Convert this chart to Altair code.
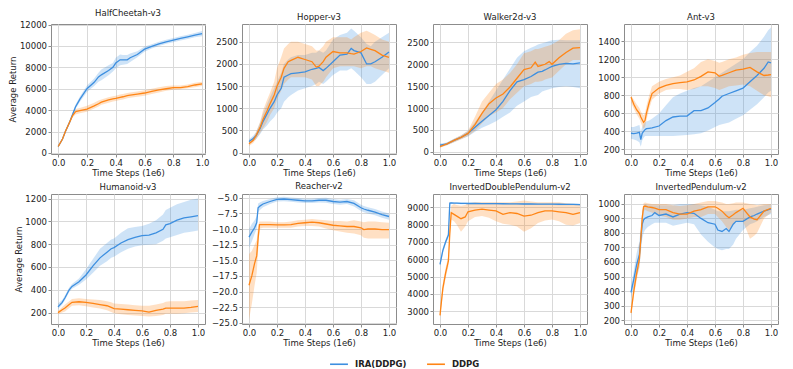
import altair as alt
import pandas as pd

BLUE = "#3d8fe0"
ORANGE = "#ff8515"
METHODS = ["IRA(DDPG)", "DDPG"]
X_TICKS = [0.0, 0.2, 0.4, 0.6, 0.8, 1.0]

# ---------------- HalfCheetah-v3 ----------------
HC_X = [0, .03, .05, .08, .1, .12, .15, .2, .25, .28, .3, .35, .38, .4, .43, .45, .48, .5, .55, .6, .65, .7, .75, .8, .85, .9, .95, 1.0]
HC_IRA = [600, 1300, 2000, 2900, 3600, 4300, 5000, 6000, 6600, 7100, 7300, 7700, 8000, 8400, 8700, 8700, 8700, 8900, 9200, 9700, 9950, 10200, 10380, 10550, 10700, 10850, 11000, 11150]
HC_IRA_LO = [500, 1200, 1900, 2750, 3450, 4100, 4750, 5700, 6250, 6650, 6800, 7250, 7600, 7900, 8200, 8250, 8300, 8500, 8950, 9450, 9750, 10000, 10200, 10350, 10500, 10650, 10800, 10900]
HC_IRA_HI = [700, 1400, 2100, 3050, 3750, 4500, 5250, 6300, 6950, 7500, 7800, 8200, 8400, 8900, 9200, 9150, 9150, 9300, 9500, 9950, 10150, 10400, 10580, 10750, 10900, 11050, 11200, 11400]
HC_DDPG = [600, 1300, 2000, 2900, 3500, 3850, 3950, 4100, 4400, 4600, 4750, 4950, 5050, 5100, 5200, 5250, 5350, 5400, 5500, 5600, 5750, 5900, 6000, 6100, 6100, 6200, 6350, 6450]
HC_DDPG_LO = [500, 1200, 1900, 2750, 3300, 3600, 3700, 3850, 4150, 4350, 4500, 4700, 4800, 4850, 4950, 5000, 5100, 5150, 5250, 5350, 5500, 5650, 5800, 5900, 5950, 6050, 6150, 6250]
HC_DDPG_HI = [700, 1400, 2100, 3050, 3700, 4100, 4200, 4400, 4700, 4900, 5000, 5200, 5300, 5350, 5450, 5500, 5600, 5650, 5750, 5850, 6000, 6150, 6250, 6300, 6300, 6400, 6550, 6650]

# ---------------- Hopper-v3 ----------------
HO_X = [0, .03, .05, .08, .1, .13, .15, .18, .2, .23, .25, .28, .3, .35, .4, .45, .48, .5, .53, .55, .6, .65, .7, .73, .75, .8, .84, .87, .9, .95, 1.0]
HO_IRA = [250, 320, 380, 550, 700, 880, 1000, 1150, 1300, 1450, 1700, 1750, 1780, 1800, 1820, 1880, 1900, 1920, 1850, 1900, 2050, 2200, 2220, 2350, 2300, 2250, 2000, 2000, 2050, 2150, 2270]
HO_IRA_LO = [200, 260, 300, 420, 520, 620, 700, 800, 900, 1000, 1150, 1250, 1300, 1400, 1450, 1500, 1550, 1600, 1550, 1600, 1750, 1850, 1850, 1900, 1850, 1700, 1550, 1550, 1600, 1750, 1900]
HO_IRA_HI = [300, 380, 460, 680, 880, 1100, 1250, 1450, 1600, 1800, 2000, 2100, 2150, 2200, 2200, 2250, 2250, 2300, 2250, 2300, 2550, 2650, 2700, 2800, 2750, 2600, 2450, 2400, 2500, 2600, 2700]
HO_DDPG = [200, 280, 380, 580, 750, 950, 1100, 1300, 1500, 1700, 1900, 2050, 2080, 2150, 2100, 2050, 1930, 1950, 2050, 2150, 2280, 2250, 2250, 2230, 2220, 2280, 2360, 2330, 2300, 2200, 2150]
HO_DDPG_LO = [150, 220, 300, 450, 550, 700, 850, 1000, 1200, 1400, 1550, 1650, 1700, 1700, 1700, 1650, 1500, 1500, 1600, 1700, 1900, 1950, 1950, 1950, 1950, 1900, 1950, 1950, 1900, 1850, 1800]
HO_DDPG_HI = [250, 340, 460, 700, 950, 1200, 1350, 1600, 1900, 2150, 2350, 2450, 2500, 2500, 2450, 2400, 2300, 2300, 2400, 2500, 2600, 2600, 2600, 2550, 2600, 2700, 2750, 2700, 2650, 2550, 2500]

# ---------------- Walker2d-v3 ----------------
WA_X = [0, .05, .1, .15, .2, .25, .3, .35, .4, .45, .5, .55, .6, .65, .68, .7, .73, .75, .78, .8, .85, .9, .95, 1.0]
WA_IRA = [150, 180, 260, 330, 420, 560, 700, 830, 960, 1150, 1400, 1600, 1650, 1720, 1780, 1820, 1840, 1870, 1920, 1950, 2000, 2020, 2010, 2030]
WA_IRA_LO = [110, 150, 220, 290, 350, 460, 550, 620, 700, 800, 900, 1050, 1150, 1250, 1280, 1300, 1380, 1400, 1430, 1450, 1480, 1500, 1480, 1450]
WA_IRA_HI = [190, 210, 300, 370, 480, 680, 900, 1150, 1400, 1650, 1900, 2150, 2300, 2380, 2420, 2450, 2480, 2500, 2530, 2550, 2560, 2550, 2550, 2550]
WA_DDPG = [120, 180, 260, 330, 420, 620, 880, 1100, 1230, 1320, 1480, 1680, 1880, 1920, 2050, 1950, 1980, 2000, 2060, 2000, 2150, 2270, 2370, 2380]
WA_DDPG_LO = [90, 150, 220, 280, 360, 480, 650, 820, 900, 1000, 1200, 1350, 1500, 1550, 1600, 1600, 1620, 1650, 1680, 1700, 1850, 2000, 2100, 2100]
WA_DDPG_HI = [150, 210, 300, 380, 480, 800, 1150, 1350, 1550, 1650, 1800, 2000, 2250, 2300, 2350, 2350, 2380, 2400, 2430, 2450, 2550, 2700, 2780, 2800]

# ---------------- Ant-v3 ----------------
AN_X = [0, .02, .04, .06, .07, .08, .09, .1, .11, .13, .15, .2, .25, .3, .35, .4, .45, .5, .55, .6, .63, .65, .7, .75, .8, .85, .9, .95, .98, 1.0]
AN_IRA = [380, 375, 380, 390, 310, 380, 400, 420, 430, 435, 440, 460, 520, 560, 570, 570, 630, 630, 660, 720, 760, 790, 820, 850, 880, 950, 1020, 1100, 1170, 1160]
AN_IRA_LO = [320, 310, 300, 280, 230, 300, 330, 350, 350, 350, 350, 350, 350, 350, 355, 360, 370, 380, 410, 450, 470, 480, 500, 540, 580, 640, 700, 780, 830, 850]
AN_IRA_HI = [450, 450, 460, 470, 400, 450, 480, 500, 510, 520, 540, 600, 690, 780, 820, 850, 880, 900, 950, 1000, 1030, 1050, 1100, 1150, 1200, 1280, 1350, 1450, 1520, 1550]
AN_DDPG = [780, 700, 640, 600, 560, 530, 500, 520, 600, 720, 820, 880, 910, 930, 940, 950, 970, 1010, 1060, 1050, 1010, 1020, 1050, 1080, 1090, 1110, 1060, 1020, 1025, 1030]
AN_DDPG_LO = [720, 650, 590, 540, 500, 460, 430, 450, 520, 650, 750, 820, 860, 870, 870, 860, 870, 900, 900, 880, 860, 870, 900, 910, 920, 900, 850, 800, 790, 780]
AN_DDPG_HI = [800, 750, 700, 660, 620, 600, 580, 600, 680, 800, 900, 950, 980, 1000, 1020, 1060, 1100, 1170, 1200, 1180, 1160, 1170, 1200, 1220, 1250, 1270, 1280, 1280, 1280, 1280]

# ---------------- Humanoid-v3 ----------------
HU_X = [0, .03, .05, .08, .1, .15, .2, .25, .3, .35, .38, .4, .45, .5, .55, .6, .65, .7, .75, .77, .8, .85, .9, .95, 1.0]
HU_IRA = [250, 290, 330, 400, 430, 470, 530, 610, 680, 730, 760, 770, 810, 840, 860, 875, 880, 900, 930, 970, 980, 1010, 1030, 1040, 1050]
HU_IRA_LO = [230, 270, 310, 380, 410, 445, 490, 550, 610, 650, 680, 690, 730, 760, 780, 790, 795, 800, 830, 850, 860, 880, 900, 910, 920]
HU_IRA_HI = [280, 310, 350, 420, 450, 500, 580, 670, 760, 810, 840, 850, 900, 940, 950, 960, 980, 1010, 1060, 1100, 1120, 1150, 1170, 1190, 1200]
HU_DDPG = [200, 225, 240, 270, 290, 295, 290, 280, 270, 260, 245, 235, 230, 225, 220, 215, 205, 220, 230, 240, 240, 240, 240, 245, 255]
HU_DDPG_LO = [185, 200, 210, 240, 260, 265, 255, 245, 235, 220, 205, 195, 185, 180, 175, 170, 165, 170, 180, 190, 190, 190, 195, 200, 205]
HU_DDPG_HI = [215, 250, 270, 300, 320, 325, 320, 315, 310, 300, 290, 280, 275, 270, 265, 260, 260, 270, 285, 295, 300, 300, 300, 305, 310]

# ---------------- Reacher-v2 ----------------
RE_X = [0, .02, .04, .055, .065, .075, .08, .1, .15, .2, .25, .3, .35, .4, .45, .5, .55, .6, .65, .7, .75, .8, .82, .85, .9, .95, 1.0]
RE_IRA = [-11.3, -10.5, -9.8, -9.0, -6.6, -6.4, -6.3, -6.0, -5.6, -5.25, -5.2, -5.3, -5.4, -5.5, -5.5, -5.4, -5.4, -5.6, -5.7, -5.6, -5.9, -6.6, -6.8, -7.0, -7.3, -7.7, -8.0]
RE_IRA_LO = [-13.0, -12.0, -10.8, -10.0, -7.4, -7.0, -6.9, -6.5, -6.0, -5.6, -5.55, -5.65, -5.75, -5.85, -5.85, -5.75, -5.8, -6.0, -6.1, -6.0, -6.4, -7.1, -7.3, -7.5, -7.8, -8.2, -8.5]
RE_IRA_HI = [-10.0, -9.2, -8.6, -8.0, -5.9, -5.8, -5.7, -5.5, -5.2, -4.9, -4.85, -4.95, -5.05, -5.15, -5.15, -5.05, -5.0, -5.2, -5.3, -5.2, -5.4, -6.1, -6.3, -6.5, -6.8, -7.2, -7.5]
RE_DDPG = [-19.0, -17.5, -15.5, -14.3, -11.5, -9.3, -9.3, -9.3, -9.3, -9.35, -9.35, -9.3, -9.1, -9.0, -8.9, -9.0, -9.2, -9.4, -9.5, -9.6, -9.6, -9.8, -10.1, -10.0, -10.0, -10.1, -10.1]
RE_DDPG_LO = [-24.5, -22.0, -19.0, -17.0, -13.5, -10.0, -9.9, -9.8, -9.8, -9.8, -9.8, -9.8, -9.6, -9.5, -9.5, -9.6, -9.9, -10.2, -10.4, -10.6, -10.7, -11.0, -11.4, -11.5, -11.5, -11.5, -11.5]
RE_DDPG_HI = [-14.0, -13.5, -12.5, -11.8, -9.5, -8.8, -8.8, -8.8, -8.8, -8.9, -8.9, -8.8, -8.6, -8.5, -8.4, -8.5, -8.6, -8.7, -8.7, -8.8, -8.6, -8.8, -8.9, -8.8, -8.8, -8.9, -9.0]

# ---------------- InvertedDoublePendulum-v2 ----------------
ID_X = [0, .02, .04, .06, .07, .08, .1, .12, .15, .18, .2, .25, .3, .35, .4, .45, .5, .55, .6, .65, .7, .75, .8, .85, .9, .95, 1.0]
ID_IRA = [5700, 6500, 7000, 7400, 9250, 9260, 9250, 9250, 9240, 9240, 9230, 9230, 9225, 9225, 9220, 9215, 9210, 9210, 9200, 9200, 9195, 9190, 9190, 9185, 9180, 9175, 9170]
ID_IRA_LO = [5550, 6350, 6850, 7250, 9190, 9210, 9200, 9200, 9190, 9190, 9180, 9180, 9175, 9175, 9170, 9165, 9160, 9160, 9150, 9150, 9145, 9140, 9140, 9135, 9130, 9125, 9120]
ID_IRA_HI = [5850, 6650, 7150, 7550, 9300, 9310, 9300, 9300, 9290, 9290, 9280, 9280, 9275, 9275, 9270, 9265, 9260, 9260, 9250, 9250, 9245, 9240, 9240, 9235, 9230, 9225, 9220]
ID_DDPG = [2750, 4300, 5200, 5900, 7500, 8700, 8600, 8500, 8350, 8450, 8750, 8850, 8900, 8850, 8800, 8600, 8700, 8650, 8500, 8550, 8700, 8800, 8800, 8750, 8700, 8600, 8700]
ID_DDPG_LO = [2600, 4000, 4900, 5600, 7200, 8300, 8200, 8000, 7600, 7900, 8200, 8450, 8500, 8400, 8200, 8050, 8000, 7900, 7600, 7800, 8100, 8250, 8300, 8200, 8000, 7950, 8100]
ID_DDPG_HI = [2900, 4600, 5500, 6200, 7800, 9100, 9200, 9150, 9100, 9150, 9250, 9300, 9300, 9300, 9300, 9300, 9300, 9350, 9400, 9350, 9300, 9300, 9300, 9300, 9250, 9200, 9150]

# ---------------- InvertedPendulum-v2 ----------------
IP_X = [0, .02, .04, .06, .08, .09, .1, .12, .15, .17, .2, .25, .3, .35, .4, .45, .5, .55, .6, .62, .65, .68, .7, .73, .75, .8, .85, .88, .9, .95, 1.0]
IP_IRA = [390, 480, 580, 650, 860, 890, 900, 910, 920, 940, 920, 930, 910, 930, 940, 935, 900, 870, 860, 820, 810, 830, 810, 860, 880, 880, 910, 920, 930, 950, 965]
IP_IRA_LO = [350, 420, 500, 560, 760, 800, 820, 840, 860, 870, 870, 870, 850, 860, 870, 860, 790, 740, 700, 690, 680, 690, 690, 720, 760, 820, 860, 870, 880, 910, 930]
IP_IRA_HI = [430, 540, 660, 740, 950, 980, 1000, 990, 990, 990, 990, 990, 990, 1000, 1000, 1000, 990, 980, 960, 950, 950, 950, 950, 955, 960, 960, 970, 975, 980, 990, 995]
IP_DDPG = [250, 400, 520, 620, 900, 980, 985, 980, 975, 970, 960, 960, 940, 930, 930, 950, 960, 980, 980, 970, 950, 920, 905, 925, 940, 970, 910, 895, 890, 950, 970]
IP_DDPG_LO = [230, 360, 470, 570, 850, 950, 960, 950, 940, 930, 920, 910, 890, 890, 900, 910, 910, 930, 930, 910, 880, 840, 820, 860, 880, 880, 760, 780, 800, 900, 940]
IP_DDPG_HI = [270, 440, 570, 670, 950, 1005, 1010, 1005, 1000, 1000, 1000, 1000, 990, 985, 990, 1000, 1010, 1020, 1020, 1015, 1010, 1000, 1000, 1005, 1010, 1010, 1000, 995, 990, 1000, 1000]

W, H = 154, 130
FONT = "DejaVu Sans"
TXT = "#222222"


def panel(title, x, ira, ira_lo, ira_hi, ddpg, ddpg_lo, ddpg_hi,
          ydom, yticks, yfmt, ytitle, xdom=(-0.05, 1.05)):
    rows = []
    for i in range(len(x)):
        rows.append({"x": x[i], "m": METHODS[0], "y": ira[i], "lo": ira_lo[i], "hi": ira_hi[i]})
    for i in range(len(x)):
        rows.append({"x": x[i], "m": METHODS[1], "y": ddpg[i], "lo": ddpg_lo[i], "hi": ddpg_hi[i]})
    df = pd.DataFrame(rows)

    xs = alt.Scale(domain=list(xdom), nice=False, zero=False)
    xa = alt.Axis(values=X_TICKS, format=".1f", title="Time Steps (1e6)", labelFlush=False)
    ys = alt.Scale(domain=list(ydom), nice=False, zero=False)
    if ytitle:
        ya = alt.Axis(values=yticks, format=yfmt, title="Average Return", labelFlush=False)
    else:
        ya = alt.Axis(values=yticks, format=yfmt, title=None, labelFlush=False)
    cs = alt.Scale(domain=METHODS, range=[BLUE, ORANGE])

    base = alt.Chart(df)
    bands = []
    for name, col in zip(METHODS, [BLUE, ORANGE]):
        bands.append(
            base.transform_filter(alt.datum.m == name)
            .mark_area(opacity=0.25, color=col, clip=True)
            .encode(
                x=alt.X("x:Q", scale=xs, axis=xa),
                y=alt.Y("lo:Q", scale=ys, axis=ya),
                y2="hi:Q",
            )
        )
    line = base.mark_line(strokeWidth=1.3, clip=True).encode(
        x=alt.X("x:Q", scale=xs, axis=xa),
        y=alt.Y("y:Q", scale=ys, axis=ya),
        color=alt.Color(
            "m:N", scale=cs,
            legend=alt.Legend(
                orient="none", legendX=278, legendY=330, direction="horizontal",
                title=None, symbolType="stroke", symbolStrokeWidth=1.6, symbolSize=320,
                labelFontWeight="bold", labelFontSize=8.5, labelFont=FONT, labelColor=TXT,
                columnPadding=16, labelOffset=6, padding=0,
            ),
        ),
    )
    return alt.layer(*bands, line).properties(
        width=W, height=H,
        title=alt.TitleParams(title, fontSize=8.5, font=FONT, fontWeight="normal", color=TXT, offset=3),
    )


panels = [
    panel("HalfCheetah-v3", HC_X, HC_IRA, HC_IRA_LO, HC_IRA_HI, HC_DDPG, HC_DDPG_LO, HC_DDPG_HI,
          (-100, 12050), [0, 2000, 4000, 6000, 8000, 10000, 12000], "d", True, xdom=(-0.05, 1.02)),
    panel("Hopper-v3", HO_X, HO_IRA, HO_IRA_LO, HO_IRA_HI, HO_DDPG, HO_DDPG_LO, HO_DDPG_HI,
          (-30, 2900), [0, 500, 1000, 1500, 2000, 2500], "d", False),
    panel("Walker2d-v3", WA_X, WA_IRA, WA_IRA_LO, WA_IRA_HI, WA_DDPG, WA_DDPG_LO, WA_DDPG_HI,
          (-50, 2920), [0, 500, 1000, 1500, 2000, 2500], "d", False),
    panel("Ant-v3", AN_X, AN_IRA, AN_IRA_LO, AN_IRA_HI, AN_DDPG, AN_DDPG_LO, AN_DDPG_HI,
          (150, 1590), [200, 400, 600, 800, 1000, 1200, 1400], "d", False),
    panel("Humanoid-v3", HU_X, HU_IRA, HU_IRA_LO, HU_IRA_HI, HU_DDPG, HU_DDPG_LO, HU_DDPG_HI,
          (100, 1240), [200, 400, 600, 800, 1000, 1200], "d", True),
    panel("Reacher-v2", RE_X, RE_IRA, RE_IRA_LO, RE_IRA_HI, RE_DDPG, RE_DDPG_LO, RE_DDPG_HI,
          (-25.2, -4.4), [-25, -22.5, -20, -17.5, -15, -12.5, -10, -7.5, -5], ".1f", False),
    panel("InvertedDoublePendulum-v2", ID_X, ID_IRA, ID_IRA_LO, ID_IRA_HI, ID_DDPG, ID_DDPG_LO, ID_DDPG_HI,
          (2250, 9780), [3000, 4000, 5000, 6000, 7000, 8000, 9000], "d", False),
    panel("InvertedPendulum-v2", IP_X, IP_IRA, IP_IRA_LO, IP_IRA_HI, IP_DDPG, IP_DDPG_LO, IP_DDPG_HI,
          (173, 1068), [200, 300, 400, 500, 600, 700, 800, 900, 1000], "d", False),
]

chart = alt.concat(
    *panels, columns=4, spacing={"row": 40, "column": 37}, bounds="flush"
).properties(padding=0).configure_view(
    stroke="#8c8c8c", strokeWidth=1
).configure_axis(
    labelFont=FONT, labelFontSize=8.5, labelColor=TXT,
    titleFont=FONT, titleFontSize=8.5, titleFontWeight="normal", titleColor=TXT,
    gridColor="#d9d9d9", gridWidth=1, domain=False,
    tickColor="#8c8c8c", tickSize=3, labelPadding=1.5, titlePadding=1.5,
)

chart.save("out.html", embed_options={"renderer": "svg", "actions": False})
